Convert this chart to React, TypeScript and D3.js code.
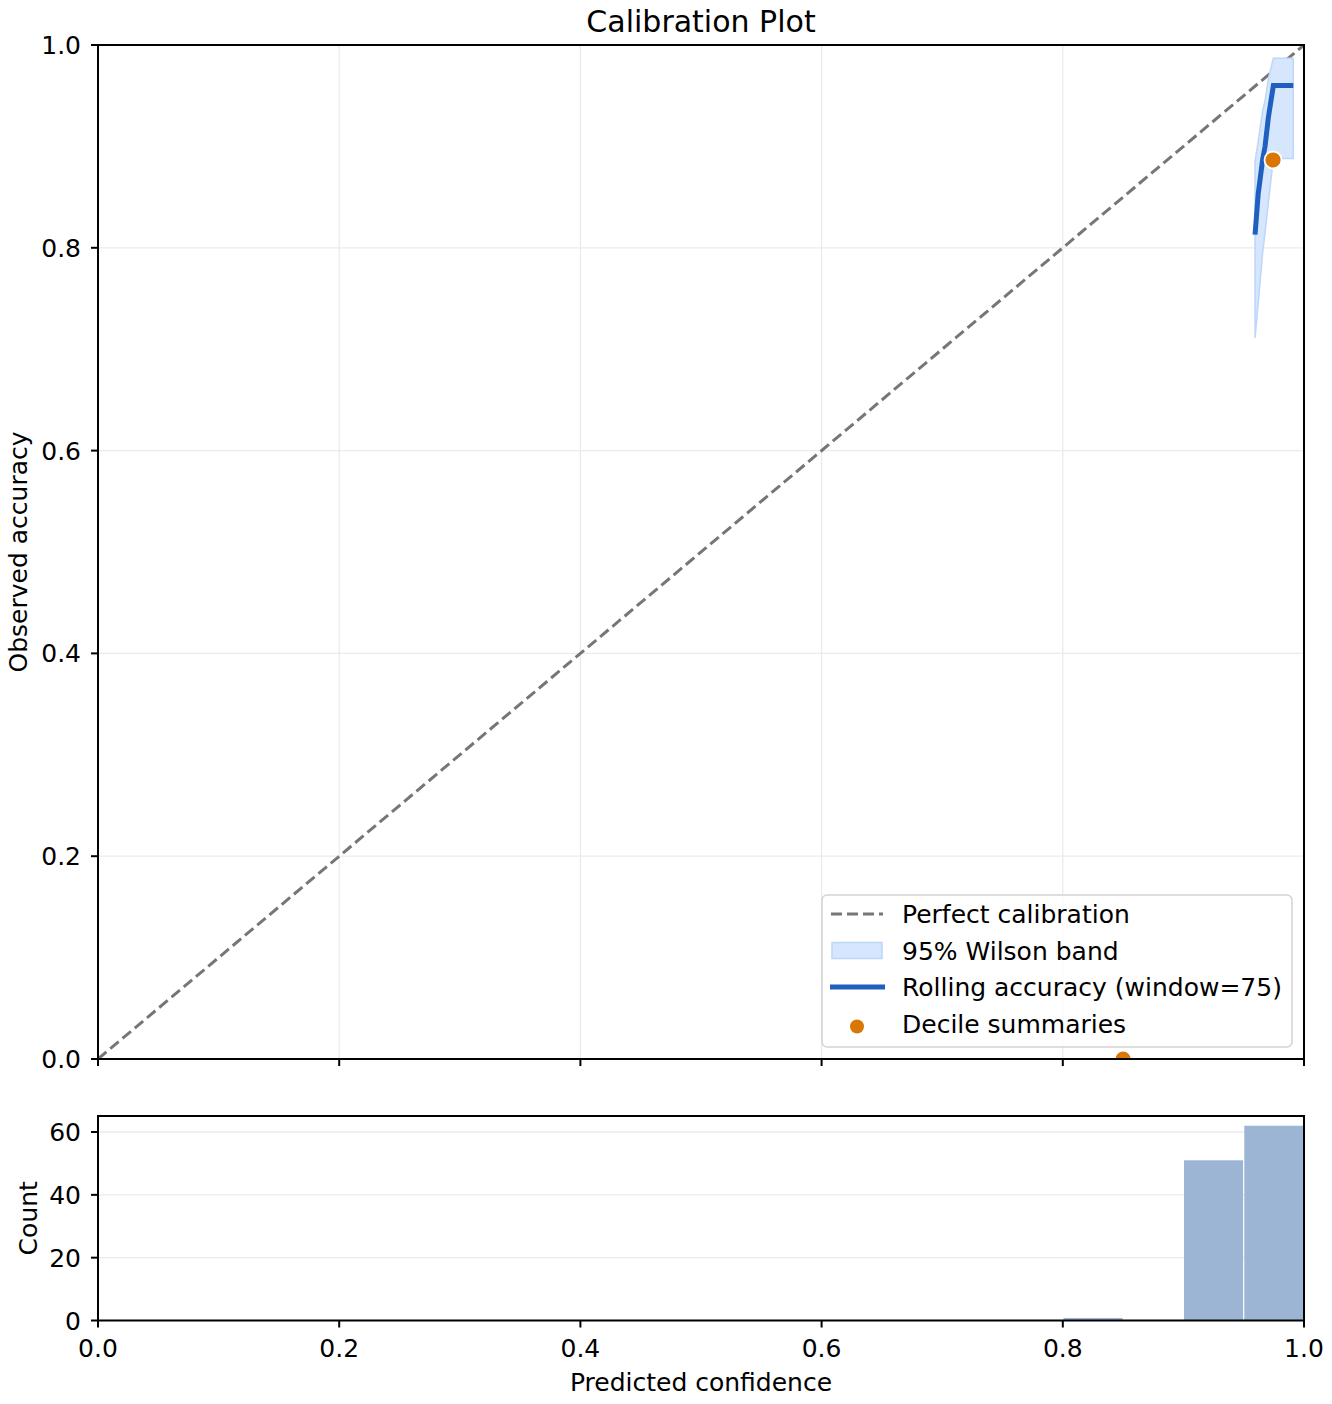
import { useEffect, useRef } from 'react';
import * as d3 from 'd3';

// rolling accuracy (window=75) and its 95% Wilson band
const rollX = [0.9594, 0.962, 0.9657, 0.9677, 0.9705, 0.9746, 0.98, 0.985, 0.9911];
const rollAcc = [0.813, 0.853, 0.887, 0.9, 0.929, 0.96, 0.96, 0.96, 0.96];
const bandLo = [0.711, 0.745, 0.795, 0.815, 0.845, 0.888, 0.888, 0.888, 0.888];
const bandHi = [0.885, 0.905, 0.935, 0.945, 0.967, 0.987, 0.987, 0.987, 0.987];

// decile summaries
const decileConf = [0.85, 0.9743];
const decileAcc = [0.0, 0.8866];

// histogram of predicted confidence
const binStart = [0.8, 0.85, 0.9, 0.95];
const binCount = [0.8, 0, 51, 62];
const binWidth = 0.05;

const ticks01 = [0, 0.2, 0.4, 0.6, 0.8, 1.0];
const countTicks = [0, 20, 40, 60];

const W = 1332;
const H = 1404;
const FONT = 'DejaVu Sans, sans-serif';
const FS = 25;

function App() {
  const svgRef = useRef<SVGSVGElement>(null);

  useEffect(() => {
    if (svgRef.current === null) return;
    const svg = d3.select(svgRef.current);
    svg.selectAll('*').remove();

    const left = 98, right = 1304;
    const top = 45, bottom = 1059;
    const hTop = 1116, hBottom = 1320.5;

    const x = d3.scaleLinear().domain([0, 1]).range([left, right]);
    const y = d3.scaleLinear().domain([0, 1]).range([bottom, top]);
    const yc = d3.scaleLinear().domain([0, d3.max(binCount)! * 1.05]).range([hBottom, hTop]);

    svg.append('defs').append('clipPath').attr('id', 'mainclip')
      .append('rect').attr('x', left).attr('y', top).attr('width', right - left).attr('height', bottom - top);
    svg.select('defs').append('clipPath').attr('id', 'histclip')
      .append('rect').attr('x', left).attr('y', hTop).attr('width', right - left).attr('height', hBottom - hTop);

    // title
    svg.append('text').attr('x', (left + right) / 2).attr('y', 31.5)
      .attr('text-anchor', 'middle').attr('font-size', 30).attr('font-family', FONT)
      .text('Calibration Plot');

    // ---------- main axes ----------
    const main = svg.append('g');
    const grid = main.append('g').attr('stroke', '#ebebeb').attr('stroke-width', 1.3);
    ticks01.forEach((t) => {
      grid.append('line').attr('x1', x(t)).attr('x2', x(t)).attr('y1', top).attr('y2', bottom);
      grid.append('line').attr('x1', left).attr('x2', right).attr('y1', y(t)).attr('y2', y(t));
    });

    const plot = main.append('g').attr('clip-path', 'url(#mainclip)');

    plot.append('line')
      .attr('x1', x(0)).attr('y1', y(0)).attr('x2', x(1)).attr('y2', y(1))
      .attr('stroke', '#767676').attr('stroke-width', 3).attr('stroke-dasharray', '11,5');

    const idx = d3.range(rollX.length);
    const area = d3.area<number>()
      .x((i) => x(rollX[i]))
      .y0((i) => y(bandLo[i]))
      .y1((i) => y(bandHi[i]));
    plot.append('path').datum(idx).attr('d', area)
      .attr('fill', '#d5e6fd').attr('stroke', '#bdd6fa').attr('stroke-width', 1.5);

    const line = d3.line<number>().x((i) => x(rollX[i])).y((i) => y(rollAcc[i]));
    plot.append('path').datum(idx).attr('d', line)
      .attr('fill', 'none').attr('stroke', '#1f5fbf').attr('stroke-width', 5);

    plot.selectAll('circle.dec').data(d3.range(decileConf.length)).enter()
      .append('circle').attr('class', 'dec')
      .attr('cx', (i) => x(decileConf[i])).attr('cy', (i) => y(decileAcc[i]))
      .attr('r', 8.5).attr('fill', '#d97706').attr('stroke', 'white').attr('stroke-width', 1.8);

    // frame
    main.append('rect').attr('x', left).attr('y', top).attr('width', right - left).attr('height', bottom - top)
      .attr('fill', 'none').attr('stroke', 'black').attr('stroke-width', 2);

    // y ticks
    ticks01.forEach((t) => {
      main.append('line').attr('x1', left - 7).attr('x2', left).attr('y1', y(t)).attr('y2', y(t))
        .attr('stroke', 'black').attr('stroke-width', 2);
      main.append('text').attr('x', left - 17).attr('y', y(t)).attr('dy', '0.36em')
        .attr('text-anchor', 'end').attr('font-size', FS).attr('font-family', FONT)
        .text(t.toFixed(1));
      // bottom x ticks (no labels)
      main.append('line').attr('x1', x(t)).attr('x2', x(t)).attr('y1', bottom).attr('y2', bottom + 7)
        .attr('stroke', 'black').attr('stroke-width', 2);
    });

    main.append('text')
      .attr('transform', `translate(27, ${(top + bottom) / 2}) rotate(-90)`)
      .attr('text-anchor', 'middle').attr('font-size', FS).attr('font-family', FONT)
      .text('Observed accuracy');

    // legend
    const lg = main.append('g');
    lg.append('rect').attr('x', 822).attr('y', 895).attr('width', 470).attr('height', 152).attr('rx', 5)
      .attr('fill', 'white').attr('fill-opacity', 0.8).attr('stroke', '#d4d4d4').attr('stroke-width', 1.5);
    const rowY = [914, 950.5, 987, 1023.5];
    lg.append('line').attr('x1', 831).attr('x2', 883).attr('y1', rowY[0]).attr('y2', rowY[0])
      .attr('stroke', '#767676').attr('stroke-width', 3).attr('stroke-dasharray', '11,5');
    lg.append('rect').attr('x', 832).attr('y', rowY[1] - 8).attr('width', 50).attr('height', 16)
      .attr('fill', '#d5e6fd').attr('stroke', '#bdd6fa').attr('stroke-width', 1.5);
    lg.append('line').attr('x1', 830).attr('x2', 885).attr('y1', rowY[2]).attr('y2', rowY[2])
      .attr('stroke', '#1f5fbf').attr('stroke-width', 5);
    lg.append('circle').attr('cx', 857).attr('cy', rowY[3] + 3).attr('r', 7).attr('fill', '#d97706');
    const labels = ['Perfect calibration', '95% Wilson band', 'Rolling accuracy (window=75)', 'Decile summaries'];
    labels.forEach((s, i) => {
      lg.append('text').attr('x', 902).attr('y', rowY[i]).attr('dy', '0.36em')
        .attr('font-size', FS).attr('font-family', FONT).text(s);
    });

    // ---------- histogram ----------
    const hist = svg.append('g');
    const hgrid = hist.append('g').attr('stroke', '#ebebeb').attr('stroke-width', 1.3);
    countTicks.forEach((t) => {
      hgrid.append('line').attr('x1', left).attr('x2', right).attr('y1', yc(t)).attr('y2', yc(t));
    });
    const hplot = hist.append('g').attr('clip-path', 'url(#histclip)');
    hplot.selectAll('rect.bar').data(d3.range(binStart.length)).enter()
      .append('rect').attr('class', 'bar')
      .attr('x', (i) => x(binStart[i]) + 0.6)
      .attr('width', (i) => x(binStart[i] + binWidth) - x(binStart[i]) - 1.2)
      .attr('y', (i) => yc(binCount[i]))
      .attr('height', (i) => yc(0) - yc(binCount[i]))
      .attr('fill', '#9db5d5');

    hist.append('rect').attr('x', left).attr('y', hTop).attr('width', right - left).attr('height', hBottom - hTop)
      .attr('fill', 'none').attr('stroke', 'black').attr('stroke-width', 2);

    countTicks.forEach((t) => {
      hist.append('line').attr('x1', left - 7).attr('x2', left).attr('y1', yc(t)).attr('y2', yc(t))
        .attr('stroke', 'black').attr('stroke-width', 2);
      hist.append('text').attr('x', left - 17).attr('y', yc(t)).attr('dy', '0.36em')
        .attr('text-anchor', 'end').attr('font-size', FS).attr('font-family', FONT)
        .text(String(t));
    });
    ticks01.forEach((t) => {
      hist.append('line').attr('x1', x(t)).attr('x2', x(t)).attr('y1', hBottom).attr('y2', hBottom + 7)
        .attr('stroke', 'black').attr('stroke-width', 2);
      hist.append('text').attr('x', x(t)).attr('y', hBottom + 36)
        .attr('text-anchor', 'middle').attr('font-size', FS).attr('font-family', FONT)
        .text(t.toFixed(1));
    });

    hist.append('text')
      .attr('transform', `translate(37, ${(hTop + hBottom) / 2}) rotate(-90)`)
      .attr('text-anchor', 'middle').attr('font-size', FS).attr('font-family', FONT)
      .text('Count');

    hist.append('text').attr('x', (left + right) / 2).attr('y', 1391)
      .attr('text-anchor', 'middle').attr('font-size', FS).attr('font-family', FONT)
      .text('Predicted confidence');
  }, [svgRef]);

  return (
    <svg
      ref={svgRef}
      width={W}
      height={H}
      style={{ position: 'absolute', left: 0, top: 0, background: 'white' }}
    />
  );
}

export default App;
